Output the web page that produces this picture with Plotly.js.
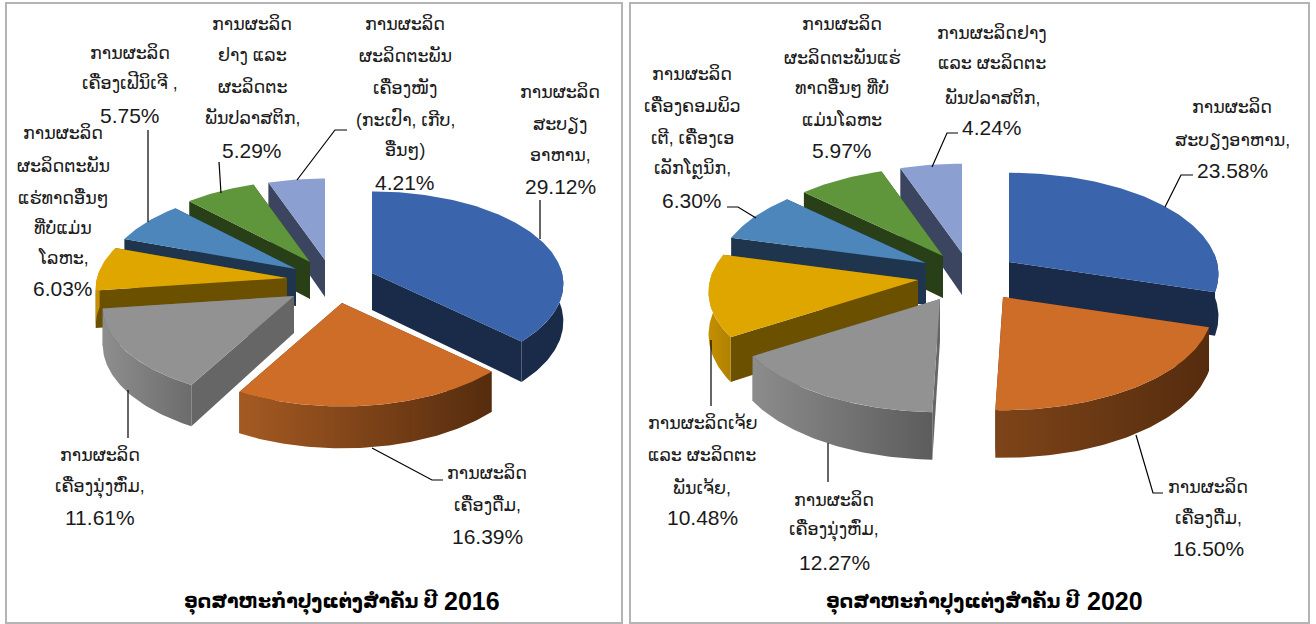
<!DOCTYPE html>
<html>
<head>
<meta charset="utf-8">
<script src="https://cdn.plot.ly/plotly-3.0.1.min.js"></script>
<style>html,body{margin:0;padding:0;background:#fff;overflow:hidden}#chart{width:1316px;height:624px}</style>
</head>
<body>
<div id="chart"></div>
<script>
// ---------- data ----------
const values2016 = [29.12, 16.39, 11.61, 6.03, 5.75, 5.29, 4.21];
const values2020 = [23.58, 16.50, 12.27, 10.48, 6.30, 5.97, 4.24];
const titleLao = "ອຸດສາຫະກຳປຸງແຕ່ງສຳຄັນ ປີ";
const years = ["2016", "2020"];
const labels2016 = [
  ["ການຜະລິດ","ສະບຽງ","ອາຫານ,"],
  ["ການຜະລິດ","ເຄື່ອງດື່ມ,"],
  ["ການຜະລິດ","ເຄື່ອງນຸ່ງຫົ່ມ,"],
  ["ການຜະລິດ","ຜະລິດຕະພັນ","ແຮ່ທາດອື່ນໆ","ທີ່ບໍ່ແມ່ນ","ໂລຫະ,"],
  ["ການຜະລິດ","ເຄື່ອງເຟີນິເຈີ ,"],
  ["ການຜະລິດ","ຢາງ ແລະ","ຜະລິດຕະ","ພັນປລາສຕິກ,"],
  ["ການຜະລິດ","ຜະລິດຕະພັນ","ເຄື່ອງໜັງ","(ກະເປົາ, ເກີບ,","ອື່ນໆ)"]
];
const labels2020 = [
  ["ການຜະລິດ","ສະບຽງອາຫານ,"],
  ["ການຜະລິດ","ເຄື່ອງດື່ມ,"],
  ["ການຜະລິດ","ເຄື່ອງນຸ່ງຫົ່ມ,"],
  ["ການຜະລິດເຈ້ຍ","ແລະ ຜະລິດຕະ","ພັນເຈ້ຍ,"],
  ["ການຜະລິດ","ເຄື່ອງຄອມພິວ","ເຕີ, ເຄື່ອງເອ","ເລັກໂຕຼນິກ,"],
  ["ການຜະລິດ","ຜະລິດຕະພັນແຮ່","ທາດອື່ນໆ ທີ່ບໍ່","ແມ່ນໂລຫະ"],
  ["ການຜະລິດຢາງ","ແລະ ຜະລິດຕະ","ພັນປລາສຕິກ,"]
];

// ---------- styles ----------
const topColors  = ["#3A64AB","#CE6D28","#929292","#DFA600","#4C86BB","#5F963C","#8C9FD1"];
const sideColors = ["#1A2B4A","#5A2E10","#666666","#6B5000","#1F344D","#283F17","#3B4560"];
const rimGrad2016 = [["#1A2B4A","#1A2B4A"],["#A55A22","#552C0E"],["#8E8E8E","#6C6C6C"],["#C49000","#C49000"],["#1F344D","#1F344D"],["#283F17","#283F17"],["#3B4560","#3B4560"]];
const rimGrad2020 = [["#1A2B4A","#1A2B4A"],["#7E4419","#552C0E"],["#8C8C8C","#5C5C5C"],["#C49000","#B08000"],["#1F344D","#1F344D"],["#283F17","#283F17"],["#3B4560","#3B4560"]];
const drawOrder = [6,5,4,3,0,2,1];

// ---------- layout of the two 3-D pies (screen pixels on the axes) ----------
const pie2016 = {R:190, k:0.48, p:0.118, depth:37,
  apex:[[372,273],[342,303],[294,296],[287,278],[296,269],[310,262],[325,260]]};
const pie2020 = {R:208, k:0.48, p:0.118, depth:42,
  apex:[[1009,262],[1003,297],[940,299],[918,280],[926,263],[943,256],[962,253]]};
const labelPos2016 = [
  {x:560,y:[92,124,155,186]},
  {x:487,y:[473,505,536]},
  {x:100,y:[455,487,517]},
  {x:63,y:[133,165,198,228,258,288]},
  {x:130,y:[53,82,115]},
  {x:252,y:[24,55,87,117,150]},
  {x:405,y:[24,55,87,118,150,182]}
];
const labelPos2020 = [
  {x:1232,y:[107,140,170]},
  {x:1208,y:[487,518,548]},
  {x:834,y:[500,530,562]},
  {x:702,y:[423,455,487,517]},
  {x:692,y:[74,106,138,168,200]},
  {x:842,y:[24,57,88,120,150]},
  {x:992,y:[33,63,97,127]}
];
const leaders = [
  [[540,200],[540,239]],
  [[372,448],[432,480],[443,480]],
  [[128,390],[128,438]],
  [[148,130],[148,222]],
  [[219,162],[221,193]],
  [[297,180],[335,130],[347,130]],
  [[1165,207],[1181,175],[1193,175]],
  [[1136,435],[1153,493],[1163,493]],
  [[828,443],[828,482]],
  [[711,340],[711,406]],
  [[756,218],[738,207],[727,207]],
  [[932,167],[947,133],[958,133]]
];
const titleAnchors = [[438,444],[1080,1087]];
const LABEL_FONT = '"Liberation Sans","DejaVu Sans",sans-serif';
const LAO_SIZE = 17.5, NUM_SIZE = 21;

// ---------- build ----------
const traces = [];
const annotations = [];
const rad = d => d*Math.PI/180;

function poly(pts, fillcolor, grad){
  const t = {type:"scatter", mode:"lines", x:pts.map(p=>p[0]), y:pts.map(p=>p[1]),
    fill:"toself", fillcolor:fillcolor, line:{width:0, color:fillcolor}, hoverinfo:"skip", showlegend:false};
  if(grad && grad[0]!==grad[1]){
    t.fillgradient = {type:"horizontal", colorscale:[[0,grad[0]],[1,grad[1]]]};
  }
  traces.push(t);
}

function drawPie(values, geo, rimGrad){
  const total = values.reduce((a,b)=>a+b,0);
  let acc = 0;
  const spans = values.map(v=>{const a0=acc/total*360; acc+=v; return [a0,acc/total*360];});
  const rim = (a,apex)=>{
    const u=Math.sin(rad(a)), v=-Math.cos(rad(a)), s=1/(1-geo.p*v);
    return {x:apex[0]+geo.R*u*s, y:apex[1]+geo.R*geo.k*v*s, d:geo.depth*s};
  };
  const arc=(a0,a1,apex)=>{
    const out=[], n=Math.max(2,Math.ceil((a1-a0)));
    for(let i=0;i<=n;i++) out.push(rim(a0+(a1-a0)*i/n,apex));
    return out;
  };
  drawOrder.forEach(i=>{
    const [a0,a1]=spans[i], apex=geo.apex[i];
    const A=[apex[0],apex[1]], Ab=[apex[0],apex[1]+geo.depth];
    [a0,a1].forEach(a=>{
      const r=rim(a,apex);
      poly([A,[r.x,r.y],[r.x,r.y+r.d],Ab,A], sideColors[i]);
    });
    const b0=Math.max(a0,85), b1=Math.min(a1,275);
    if(b1>b0){
      const ar=arc(b0,b1,apex);
      const pts=ar.map(r=>[r.x,r.y]).concat(ar.slice().reverse().map(r=>[r.x,r.y+r.d]));
      pts.push(pts[0]);
      poly(pts, rimGrad[i][0], rimGrad[i]);
    }
    const top=[A].concat(arc(a0,a1,apex).map(r=>[r.x,r.y]));
    top.push(A);
    poly(top, topColors[i]);
  });
}
drawPie(values2016, pie2016, rimGrad2016);
drawPie(values2020, pie2020, rimGrad2020);

leaders.forEach(l=>traces.push({type:"scatter",mode:"lines",x:l.map(p=>p[0]),y:l.map(p=>p[1]),
  line:{color:"#000",width:1.2},hoverinfo:"skip",showlegend:false}));

function addLabels(labels, values, pos){
  labels.forEach((lines,i)=>{
    const all=lines.concat([values[i].toFixed(2)+"%"]);
    all.forEach((txt,j)=>{
      const isNum=j===all.length-1;
      annotations.push({x:pos[i].x,y:pos[i].y[j],xref:"x",yref:"y",text:txt,showarrow:false,
        xanchor:"center",yanchor:"middle",
        font:{family:LABEL_FONT,size:isNum?NUM_SIZE:LAO_SIZE,color:"#1a1a1a"}});
    });
  });
}
addLabels(labels2016, values2016, labelPos2016);
addLabels(labels2020, values2020, labelPos2020);
years.forEach((yr,i)=>{
  annotations.push({x:titleAnchors[i][0],y:602,xref:"x",yref:"y",text:"<b>"+titleLao+"</b>",showarrow:false,
    xanchor:"right",yanchor:"middle",xshift:2,font:{family:LABEL_FONT,size:19,color:"#000"}});
  annotations.push({x:titleAnchors[i][1],y:601,xref:"x",yref:"y",text:"<b>"+yr+"</b>",showarrow:false,
    xanchor:"left",yanchor:"middle",xshift:-2,font:{family:LABEL_FONT,size:25,color:"#000"}});
});

const border={color:"#B4B4B4",width:2};
const layout={width:1316,height:624,margin:{l:0,r:0,t:0,b:0},paper_bgcolor:"#fff",plot_bgcolor:"#fff",
  showlegend:false,hovermode:false,
  xaxis:{range:[0,1316],visible:false,fixedrange:true},
  yaxis:{range:[624,0],visible:false,fixedrange:true},
  shapes:[
    {type:"rect",xref:"x",yref:"y",x0:6,y0:3,x1:622,y1:623,line:border,layer:"below"},
    {type:"rect",xref:"x",yref:"y",x0:630,y0:3,x1:1309,y1:623,line:border,layer:"below"}
  ],
  annotations:annotations};
Plotly.newPlot("chart",traces,layout,{displayModeBar:false,staticPlot:true});
</script>
</body>
</html>
